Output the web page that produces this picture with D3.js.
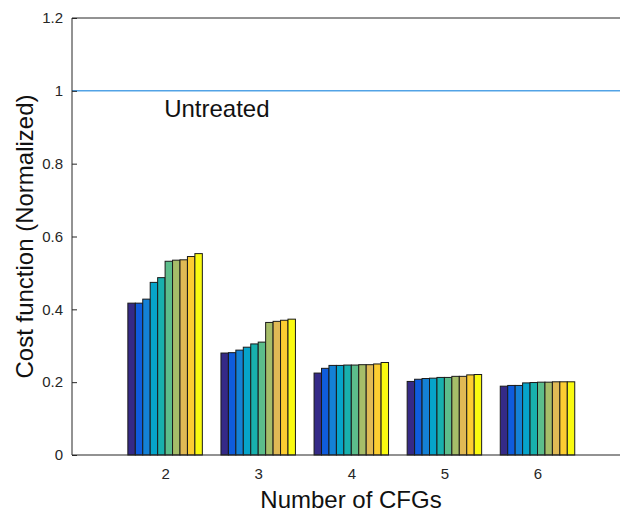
<!DOCTYPE html>
<html>
<head>
<meta charset="utf-8">
<script src="https://cdn.jsdelivr.net/npm/d3@7/dist/d3.min.js"></script>
<style>
  html, body { margin: 0; padding: 0; background: #fff; }
  svg { display: block; font-family: "Liberation Sans", Arial, sans-serif; }
</style>
</head>
<body>
<svg id="chart" width="620" height="514"></svg>
<script>
// Number of CFGs on the x axis
const groups = [2, 3, 4, 5, 6];

// Normalized cost for each of the ten configurations, per group
const series = [
  [0.417, 0.417, 0.428, 0.474, 0.487, 0.532, 0.535, 0.536, 0.545, 0.553],
  [0.280, 0.281, 0.288, 0.296, 0.305, 0.310, 0.364, 0.367, 0.370, 0.373],
  [0.225, 0.238, 0.246, 0.246, 0.247, 0.247, 0.248, 0.248, 0.250, 0.254],
  [0.202, 0.208, 0.210, 0.211, 0.213, 0.213, 0.216, 0.216, 0.220, 0.221],
  [0.189, 0.191, 0.191, 0.198, 0.199, 0.200, 0.200, 0.201, 0.201, 0.201]
];

// Parula-style palette, one colour per bar in a group
const barColors = ["#352a87", "#0f5cdd", "#1481d6", "#06a4ca", "#18b0ad",
                   "#5cbd8b", "#a6bd69", "#e0b955", "#fccd32", "#f9fa10"];

const yTicks = [0, 0.2, 0.4, 0.6, 0.8, 1, 1.2];
const baseline = 1;
const baselineLabel = "Untreated";

const svg = d3.select("#chart");
const plotLeft = 72, plotTop = 18, plotBottom = 455, plotRight = 620;

const x = d3.scaleLinear().domain([1, 7]).range([plotLeft, 630.6]);
const y = d3.scaleLinear().domain([0, 1.2]).range([plotBottom, plotTop]);

const groupWidth = 0.8;
const nBars = barColors.length;
const xBar = d3.scaleBand()
  .domain(d3.range(nBars))
  .range([-groupWidth / 2, groupWidth / 2]);

const axisColor = "#262626";
const font = "'Liberation Sans', Arial, sans-serif";

// bars
const g = svg.append("g");
groups.forEach((grp, gi) => {
  g.selectAll(null)
    .data(series[gi])
    .enter()
    .append("rect")
    .attr("x", (d, i) => x(grp + xBar(i)))
    .attr("width", (d, i) => x(grp + xBar(i) + xBar.bandwidth()) - x(grp + xBar(i)))
    .attr("y", d => y(d))
    .attr("height", d => y(0) - y(d))
    .attr("fill", (d, i) => barColors[i])
    .attr("stroke", "#1a1a1a")
    .attr("stroke-width", 1);
});

// reference line for the untreated case
svg.append("line")
  .attr("x1", plotLeft).attr("x2", plotRight)
  .attr("y1", y(baseline)).attr("y2", y(baseline))
  .attr("stroke", "#52a3e6").attr("stroke-width", 1.5);

svg.append("text")
  .attr("x", x(1.99)).attr("y", y(baseline) + 26)
  .attr("font-size", 24).attr("fill", "#111")
  .text(baselineLabel);

// y axis (ticks inward)
const yAxis = d3.axisLeft(y).tickValues(yTicks).tickSize(-5).tickPadding(9)
  .tickFormat(d => String(d));
const ya = svg.append("g").attr("transform", `translate(${plotLeft},0)`).call(yAxis);
ya.select(".domain").remove();
ya.selectAll("line").attr("stroke", axisColor);
ya.selectAll("text").attr("font-size", 15).attr("fill", axisColor)
  .attr("font-family", font);

// x axis labels
const xa = svg.append("g").attr("transform", `translate(0,${plotBottom})`)
  .call(d3.axisBottom(x).tickValues(groups).tickSize(0).tickPadding(13)
    .tickFormat(d3.format("d")));
xa.select(".domain").remove();
xa.selectAll("text").attr("font-size", 15).attr("fill", axisColor)
  .attr("font-family", font);

// frame lines
svg.append("line").attr("x1", plotLeft).attr("x2", plotLeft).attr("y1", plotTop).attr("y2", plotBottom)
  .attr("stroke", axisColor).attr("stroke-width", 1);
svg.append("line").attr("x1", plotLeft).attr("x2", plotRight).attr("y1", plotBottom).attr("y2", plotBottom)
  .attr("stroke", axisColor).attr("stroke-width", 1.2);
svg.append("line").attr("x1", plotLeft).attr("x2", plotRight).attr("y1", plotTop).attr("y2", plotTop)
  .attr("stroke", axisColor).attr("stroke-width", 1);

// axis titles
svg.append("text")
  .attr("x", 351).attr("y", 508)
  .attr("text-anchor", "middle").attr("font-size", 24).attr("fill", "#111")
  .text("Number of CFGs");

svg.append("text")
  .attr("transform", `translate(33,${(plotTop + plotBottom) / 2}) rotate(-90)`)
  .attr("text-anchor", "middle").attr("font-size", 24).attr("fill", "#111")
  .text("Cost function (Normalized)");
</script>
</body>
</html>
